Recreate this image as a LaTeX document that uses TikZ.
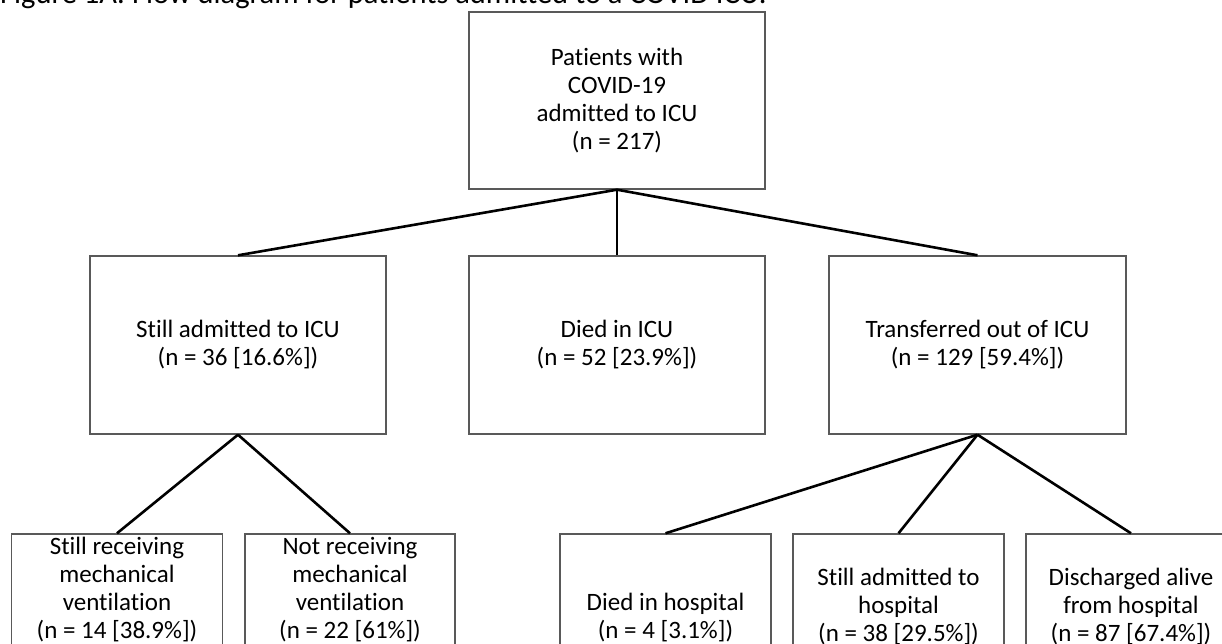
\documentclass[tikz,border=0pt]{standalone}
\usepackage{fontspec}
\setmainfont{Carlito}[Ligatures={NoCommon}]
\usepackage{tikz}

\begin{document}
\begin{tikzpicture}[x=1pt,y=-1pt,
    box/.style={draw=black!65,line width=1.4pt,fill=white,align=center,inner sep=0pt,
      font=\fontsize{25}{28}\selectfont},
    link/.style={line width=2.6pt,black}]
    \useasboundingbox (0,0) rectangle (1222,644);
    % caption, cut at the top edge
    \node[anchor=base west,inner sep=0pt,font=\fontsize{30.5}{34}\selectfont] (caption) at (0,3.5) {Figure 1A: Flow diagram for patients admitted to a COVID ICU.};
    % top
    \node[box,minimum width=296pt,minimum height=177pt] (patients) at (617,100.5) {Patients with\\COVID-19\\admitted to ICU\\(n = 217)};
    % middle row
    \node[box,minimum width=296pt,minimum height=178pt] (stillicu) at (238,345) {Still admitted to ICU\\(n = 36 [16.6\%])};
    \node[box,minimum width=296pt,minimum height=178pt] (diedicu) at (617,345) {Died in ICU\\(n = 52 [23.9\%])};
    \node[box,minimum width=297pt,minimum height=178pt] (transfer) at (977.5,345) {Transferred out of ICU\\(n = 129 [59.4\%])};
    % bottom row (runs off the page)
    \node[box,minimum width=211pt,minimum height=112pt] (stillvent) at (117,590) {Still receiving\\mechanical\\ventilation\\(n = 14 [38.9\%])};
    \node[box,minimum width=210pt,minimum height=112pt] (notvent) at (350,590) {Not receiving\\mechanical\\ventilation\\(n = 22 [61\%])};
    \node[box,minimum width=211pt,minimum height=168pt] (diedhosp) at (665.5,618) {Died in hospital\\(n = 4 [3.1\%])};
    \node[box,minimum width=211pt,minimum height=146pt] (stillhosp) at (898.5,607) {Still admitted to\\hospital\\(n = 38 [29.5\%])};
    \node[box,minimum width=210pt,minimum height=146pt] (discharged) at (1131,607) {Discharged alive\\from hospital\\(n = 87 [67.4\%])};
    % connectors
    \draw[link] (patients.south) -- (stillicu.north);
    \draw[link] (patients.south) -- (diedicu.north);
    \draw[link] (patients.south) -- (transfer.north);
    \draw[link] (stillicu.south) -- (stillvent.north);
    \draw[link] (stillicu.south) -- (notvent.north);
    \draw[link] (transfer.south) -- (diedhosp.north);
    \draw[link] (transfer.south) -- (stillhosp.north);
    \draw[link] (transfer.south) -- (discharged.north);
\end{tikzpicture}
\end{document}
